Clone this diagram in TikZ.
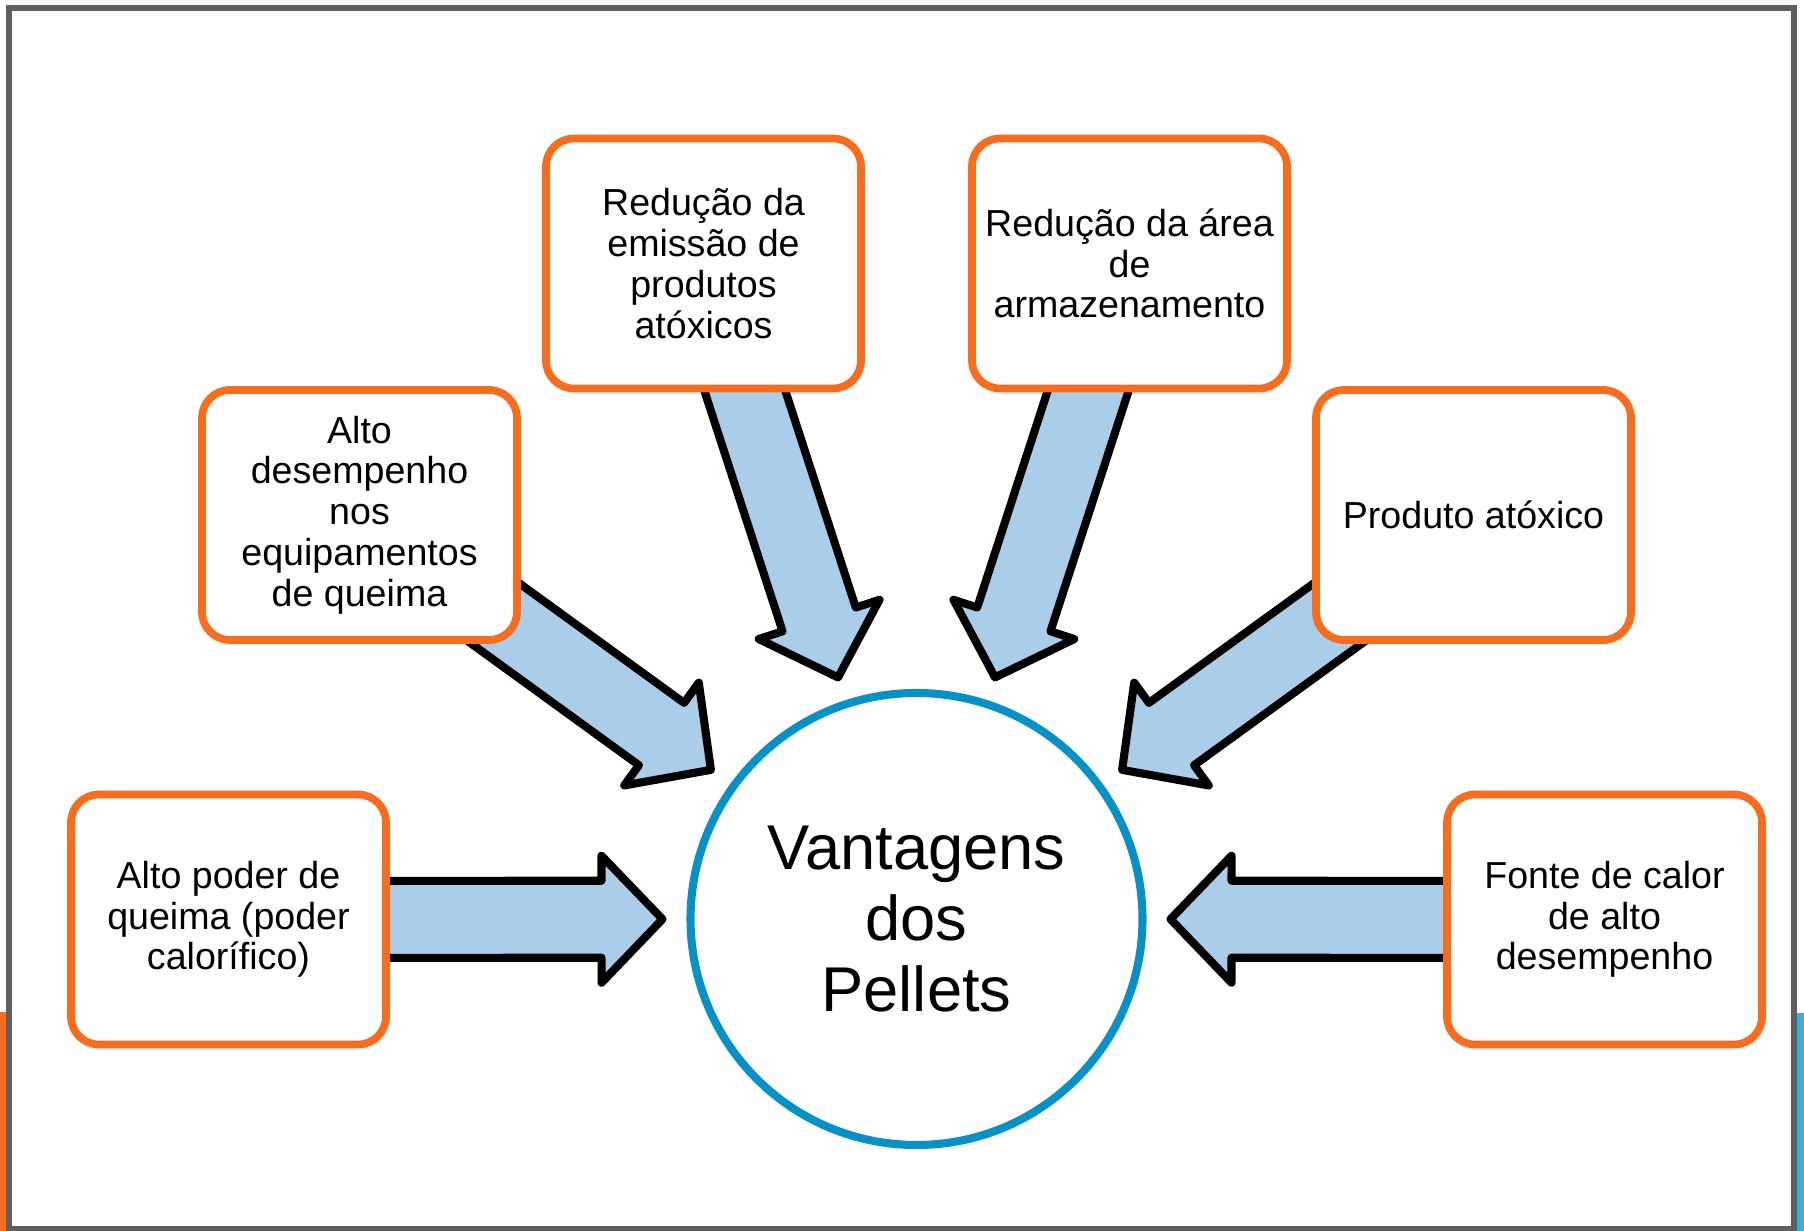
\documentclass[tikz,border=0pt]{standalone}
\usepackage{fontspec}
\setmainfont{Liberation Sans}
\usetikzlibrary{calc,shadows}
\tikzset{>=stealth}
\definecolor{boxorange}{RGB}{248,108,30}
\definecolor{arrowblue}{RGB}{170,205,233}
\definecolor{ringblue}{RGB}{8,145,199}
\definecolor{barblue}{RGB}{55,178,222}
\definecolor{framegray}{RGB}{95,95,95}
\pgfdeclarelayer{bg}
\pgfsetlayers{bg,main}
\tikzset{
	vbox/.style={draw=boxorange, line width=2.2pt, fill=white, rounded corners=0.28cm,
		minimum width=3.15cm, minimum height=2.5cm, inner sep=0pt, align=center,
		font=\fontsize{10.7}{11.6}\selectfont,
		drop shadow={shadow xshift=0.02cm, shadow yshift=-0.035cm, opacity=0.25}},
	fatarrow/.style={draw=black, line width=2.3pt, line join=round, fill=arrowblue,
		drop shadow={shadow xshift=0.02cm, shadow yshift=-0.035cm, opacity=0.25}},
}
% big block arrow from box #1 towards the circle #2
\newcommand{\fatarr}[2]{%
	\coordinate (t) at ($(#2)!2.54cm!(#1)$);
	\coordinate (h) at ($(t)!0.61cm!(#1)$);
	\draw[fatarrow] ($(#1)!0.385cm!90:(t)$) -- ($(h)!0.385cm!-90:(#1)$)
		-- ($(h)!0.635cm!-90:(#1)$) -- (t) -- ($(h)!0.635cm!90:(#1)$)
		-- ($(h)!0.385cm!90:(#1)$) -- ($(#1)!0.385cm!-90:(t)$) -- cycle;
}

\begin{document}
\begin{tikzpicture}
				\useasboundingbox (0,0) rectangle (18.04,-12.31);
				% frame
				\fill[boxorange] (0,-10.12) rectangle (0.065,-12.31);
				\fill[barblue] (17.965,-10.13) rectangle (18.04,-12.31);
				\draw[framegray, line width=1.5pt] (0.09,-0.08) rectangle (17.94,-12.29);

				\draw (9.165,-9.19) node (c) [circle, draw=ringblue, line width=2.3pt, fill=white,
					minimum size=4.52cm, inner sep=0pt, align=center,
					font=\fontsize{18}{20.2}\selectfont,
					drop shadow={shadow xshift=0.02cm, shadow yshift=-0.035cm, opacity=0.25}]
					{Vantagens\\dos\\Pellets};

				\draw (2.285,-9.195) node (n1) [vbox] {Alto poder de\\queima (poder\\calorífico)};
				\draw (3.595,-5.15) node (n2) [vbox] {Alto\\desempenho\\nos\\equipamentos\\de queima};
				\draw (7.035,-2.635) node (n3) [vbox] {Redução da\\emissão de\\produtos\\atóxicos};
				\draw (11.295,-2.635) node (n4) [vbox] {Redução da área\\de\\armazenamento};
				\draw (14.735,-5.15) node (n5) [vbox] {Produto atóxico};
				\draw (16.045,-9.195) node (n6) [vbox] {Fonte de calor\\de alto\\desempenho};

				\begin{pgfonlayer}{bg}
					\fatarr{n1}{c}
					\fatarr{n2}{c}
					\fatarr{n3}{c}
					\fatarr{n4}{c}
					\fatarr{n5}{c}
					\fatarr{n6}{c}
				\end{pgfonlayer}
\end{tikzpicture}
\end{document}
